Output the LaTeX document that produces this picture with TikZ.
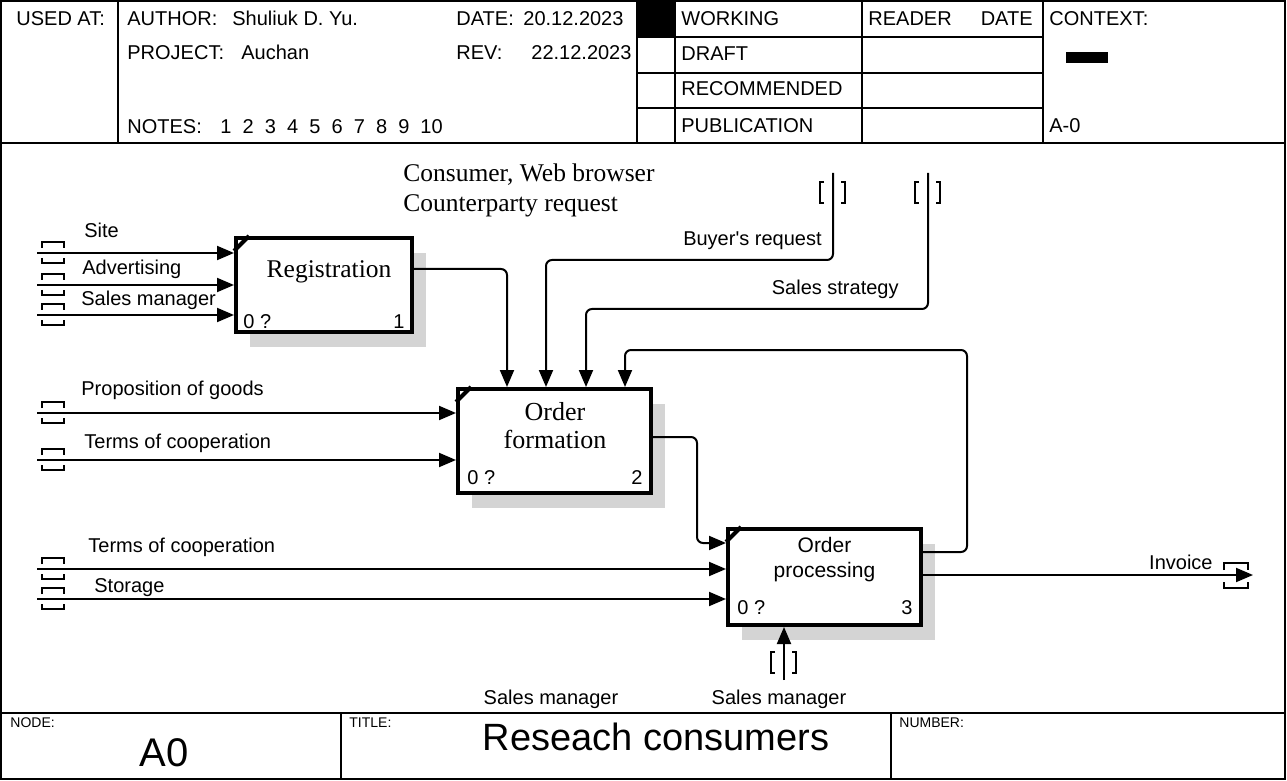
\documentclass[tikz,border=0pt]{standalone}
\usepackage{fontspec}
\setmainfont{Liberation Sans}
\newfontfamily\seriffont{Liberation Serif}
\usetikzlibrary{positioning,calc,arrows.meta,shadows}
\tikzset{
  frame/.style={line width=1.2pt},
  actbox/.style={draw, line width=2pt, fill=white, inner sep=0pt,
    drop shadow={shadow xshift=7pt, shadow yshift=-7.5pt, fill=black!17, opacity=1}},
  flow/.style={line width=1pt, rounded corners=3pt, -{Triangle[length=8.5pt,width=7pt]}},
  tun/.style={line width=1.3pt},
  lbl/.style={inner sep=0pt, anchor=west, text height=7.2pt, text depth=0pt, font=\fontsize{10}{12}\selectfont},
  formlbl/.style={lbl, text height=5pt, font=\fontsize{7}{8}\selectfont},
  htunnel/.pic={
    \draw[tun] (-11,-5) -- (-11,-11) -- (11,-11) -- (11,-5);
    \draw[tun] (-11,5) -- (-11,10) -- (11,10) -- (11,5);
  },
  vtunnel/.pic={
    \draw[tun] (-9,0) -- (-13,0) -- (-13,21) -- (-9,21);
    \draw[tun] (8,0) -- (12,0) -- (12,21) -- (8,21);
  }
}
\begin{document}
\begin{tikzpicture}[x=0.5pt, y=-0.5pt]
\useasboundingbox (0,0) rectangle (1287,781);

% form
\draw[frame] (1,1) rectangle (1285,779);
\draw[frame] (1,143) -- (1285,143);
\draw[frame] (1,713) -- (1285,713);
\foreach \x in {118,637,675,862,1043} \draw[frame] (\x,1) -- (\x,143);
\foreach \y in {37,73,108} \draw[frame] (637,\y) -- (1043,\y);
\foreach \x in {341,891} \draw[frame] (\x,713) -- (\x,779);
\fill (637,1) rectangle (675,37);
\fill (1066,52) rectangle (1108,63);

\node[lbl] (usedat) at (16,18) {USED AT:};
\node[lbl] (author) at (127,18) {AUTHOR:};
\node[lbl] (authorname) at (232,18) {Shuliuk D. Yu.};
\node[lbl] (date) at (456,18) {DATE:};
\node[lbl] (dateval) at (523,18) {20.12.2023};
\node[lbl] (project) at (127,52) {PROJECT:};
\node[lbl] (projectname) at (241,52) {Auchan};
\node[lbl] (rev) at (456,52) {REV:};
\node[lbl] (revval) at (531,52) {22.12.2023};
\node[lbl] (notes) at (127,126) {NOTES:};
\node[lbl] (notesval) at (220,126) {1~~2~~3~~4~~5~~6~~7~~8~~9~~10};
\node[lbl] (working) at (681,18) {WORKING};
\node[lbl] (draft) at (681,53) {DRAFT};
\node[lbl] (recommended) at (681,88) {RECOMMENDED};
\node[lbl] (publication) at (681,125) {PUBLICATION};
\node[lbl] (reader) at (868,18) {READER};
\node[lbl, anchor=east] (readerdate) at (1033,18) {DATE};
\node[lbl] (context) at (1049,18) {CONTEXT:};
\node[lbl] (contextno) at (1049,125) {A-0};

\node[formlbl] (nodelbl) at (10,722) {NODE:};
\node[inner sep=0pt, font=\fontsize{20}{24}\selectfont] (nodeno) at (164,753) {A0};
\node[formlbl] (titlelbl) at (349,722) {TITLE:};
\node[inner sep=0pt, font=\fontsize{19}{23}\selectfont] (title) at (656,737) {Reseach consumers};
\node[formlbl] (numberlbl) at (899,722) {NUMBER:};

% activities
\node[actbox, minimum width=88pt, minimum height=47pt] (reg) at (324,285) {};
\node[actbox, minimum width=96.5pt, minimum height=52pt] (ord) at (554.5,441) {};
\node[actbox, minimum width=96.5pt, minimum height=48pt] (proc) at (824.5,577) {};
\foreach \b in {reg,ord,proc}
  \draw[line width=2pt] ([yshift=-7.5pt]\b.north west) -- ([xshift=7.5pt]\b.north west);

\node[font=\seriffont\fontsize{12.75}{15}\selectfont] (regtxt) at (329,272) {Registration};
\node[align=center, font=\seriffont\fontsize{13}{14}\selectfont] (ordtxt) at (555,426) {Order\\formation};
\node[align=center, font=\fontsize{10.5}{12.5}\selectfont] (proctxt) at (824.5,560) {Order\\processing};
\node[lbl] (regcost) at (243,321) {0 ?};
\node[lbl, anchor=east] (regno) at (405,321) {1};
\node[lbl] (ordcost) at (467,477) {0 ?};
\node[lbl, anchor=east] (ordno) at (643,477) {2};
\node[lbl] (proccost) at (737,607) {0 ?};
\node[lbl, anchor=east] (procno) at (913,607) {3};

% free ends
\coordinate (inSite) at (37,253);
\coordinate (inAdv) at (37,285);
\coordinate (inMgr) at (37,315);
\coordinate (inProp) at (37,413);
\coordinate (inTerms) at (37,460);
\coordinate (inTermsB) at (37,569);
\coordinate (inStore) at (37,599);
\coordinate (tBuyer) at (833,173);
\coordinate (tStrat) at (928,173);
\coordinate (tMech) at (784,680);
\coordinate (oInv) at (1253,575);

\foreach \c in {inSite,inAdv,inMgr,inProp,inTerms,inTermsB,inStore}
  \pic at ($(\c)+(16,0)$) {htunnel};
\pic at (833,182) {vtunnel};
\pic at (928,182) {vtunnel};
\pic at (784,652) {vtunnel};
\pic[xscale=1.1, yscale=1.2] at (1236,576) {htunnel};

% arrows
\draw[flow] (inSite) -- (inSite -| reg.west);
\draw[flow] (inAdv) -- (inAdv -| reg.west);
\draw[flow] (inMgr) -- (inMgr -| reg.west);
\draw[flow] (inProp) -- (inProp -| ord.west);
\draw[flow] (inTerms) -- (inTerms -| ord.west);
\draw[flow] (inTermsB) -- (inTermsB -| proc.west);
\draw[flow] (inStore) -- (inStore -| proc.west);
\draw[flow] ([yshift=8pt]reg.east) -| ([xshift=-23.75pt]ord.north);
\draw[flow] (tBuyer) -- ++(0,87) -| ([xshift=-4.25pt]ord.north);
\draw[flow] (tStrat) -- ++(0,136) -| ([xshift=15.75pt]ord.north);
\draw[flow] ([yshift=12.5pt]proc.east) -- ++(44,0) -- ++(0,-202) -| ([xshift=35.25pt]ord.north);
\draw[flow] ([yshift=2pt]ord.east) -- ++(44,0) |- ([yshift=17pt]proc.west);
\draw[flow] (tMech) -- (tMech |- proc.south);
\draw[flow] (proc.east |- oInv) -- (oInv);

% labels
\node[lbl] (lSite) at (84,230) {Site};
\node[lbl] (lAdv) at (82,267) {Advertising};
\node[lbl] (lMgr) at (81,298) {Sales manager};
\node[lbl] (lProp) at (81,388) {Proposition of goods};
\node[lbl] (lTerms) at (84,441) {Terms of cooperation};
\node[lbl] (lTermsB) at (88,545) {Terms of cooperation};
\node[lbl] (lStore) at (94,585) {Storage};
\node[lbl, anchor=east] (lBuyer) at (822,238) {Buyer\XeTeXglyph\XeTeXcharglyph"0027 s request};
\node[lbl, anchor=east] (lStrat) at (899,287) {Sales strategy};
\node[lbl, anchor=east] (lInv) at (1213,562) {Invoice};
\node[lbl, anchor=center] (lMgrB) at (551,697) {Sales manager};
\node[lbl, anchor=center] (lMech) at (779,697) {Sales manager};
\node[inner sep=0pt, anchor=north west, align=left, font=\seriffont\fontsize{12.75}{15}\selectfont] (lCons) at (403,163) {Consumer, Web browser\\Counterparty request};
\end{tikzpicture}
\end{document}
